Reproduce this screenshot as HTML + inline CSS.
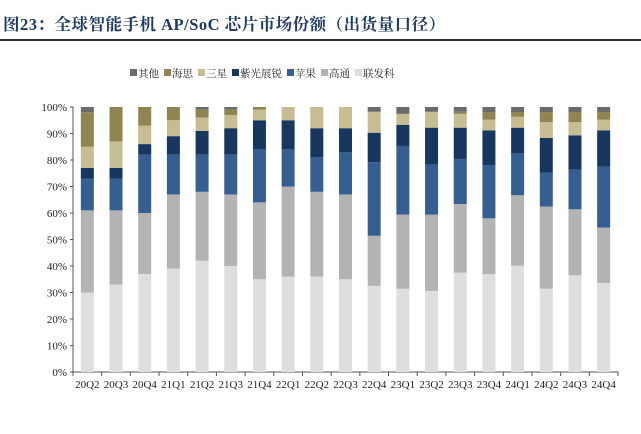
<!DOCTYPE html>
<html><head><meta charset="utf-8">
<style>
body{margin:0;background:#fff;width:641px;height:434px;overflow:hidden;font-family:"Liberation Serif","Noto Serif CJK SC",serif;}
#title{position:absolute;left:3px;top:11px;font-size:16.5px;font-weight:bold;color:#1f3a60;white-space:nowrap;letter-spacing:0.5px}
#rule{position:absolute;left:0;top:39px;width:641px;height:2px;background:#333}
svg{position:absolute;left:0;top:0}
</style></head><body>
<div id="title">图23：全球智能手机 AP/SoC 芯片市场份额（出货量口径）</div>
<div id="rule"></div>
<svg id="chart" width="641" height="434"></svg>
<script>
const categories=["20Q2","20Q3","20Q4","21Q1","21Q2","21Q3","21Q4","22Q1","22Q2","22Q3","22Q4","23Q1","23Q2","23Q3","23Q4","24Q1","24Q2","24Q3","24Q4"];
const seriesNames=["联发科","高通","苹果","紫光展锐","三星","海思","其他"];
const mediatek=[30,33,37,39,42,40,35,36,36,35,32.5,31.4,30.6,37.5,36.9,40.1,31.4,36.5,33.6];
const qualcomm=[31,28,23,28,26,27,29,34,32,32,18.9,28,28.8,25.9,21.1,26.6,31,24.9,20.9];
const apple=[12,12,22,15,14,15,20,14,13,16,27.8,25.9,18.8,17,20.1,15.8,12.9,14.9,23];
const unisoc=[4,4,4,7,9,10,11,11,11,9,11.1,8,14,11.8,13.1,9.7,13,13,13.7];
const samsung=[8,10,7,6,5,5,4,5,8,8,7.9,4.1,6,5.2,4,4.1,6,5,4];
const hisilicon=[13,13,7,5,3,2,1,0,0,0,0,0,0,0.8,2.9,1.8,3.8,3.8,2.9];
const others=[2,0,0,0,1,1,0,0,0,0,1.8,2.6,1.8,1.8,1.9,1.9,1.9,1.9,1.9];
const yTicks=[0,10,20,30,40,50,60,70,80,90,100];
const series=[mediatek,qualcomm,apple,unisoc,samsung,hisilicon,others];
const colors=["#dedede","#b3b3b3","#365f91","#17375e","#c6bd93","#8f8550","#6b6b6b"];
const legendOrder=[6,5,4,3,2,1,0];
const NS="http://www.w3.org/2000/svg";
const svg=document.getElementById('chart');
const X0=73,X1=618,Y0=372,Y100=107;
const n=categories.length;
const cw=(X1-X0)/n;
function y(v){return Y0-(Y0-Y100)*v/100;}
function xc(i){return X0+cw*(i+0.5);}
function mk(t,a){const e=document.createElementNS(NS,t);for(const k in a)e.setAttribute(k,a[k]);svg.appendChild(e);return e;}
let ax=mk('line',{x1:X0,y1:Y100,x2:X0,y2:Y0,stroke:'#555','stroke-width':1});


yTicks.forEach(t=>{
 const tk=mk('line',{x1:X0-3,x2:X0,y1:y(t),y2:y(t),stroke:'#555'});
 
 
 const tx=mk('text',{x:X0-6,y:y(t)+4,'text-anchor':'end','font-size':11,fill:'#222'});
 tx.textContent=t+'%';
 
 
});
let xa=mk('line',{x1:X0,y1:Y0,x2:X1,y2:Y0,stroke:'#555','stroke-width':1});


for(let i=0;i<=n;i++){
 const tk=mk('line',{x1:X0+cw*i,x2:X0+cw*i,y1:Y0,y2:Y0+4,stroke:'#555'});
 
 
}
const bw=13;
categories.forEach((c,i)=>{
 let acc=0;
 series.forEach((s,k)=>{
  const v=s[i];
  if(v>0){
   const r=mk('rect',{x:xc(i)-bw/2,y:y(acc+v),width:bw,height:y(acc)-y(acc+v),fill:colors[k]});
   
   
  }
  acc+=v;
 });
 const tx=mk('text',{x:xc(i),y:Y0+16,'text-anchor':'middle','font-size':11,fill:'#222'});
 tx.textContent=c;
 
 
});
let lx=130;
legendOrder.forEach(k=>{
 const r=mk('rect',{x:lx,y:69,width:7,height:7,fill:colors[k]});
 
 
 const t=mk('text',{x:lx+8,y:77,'font-size':10.5,fill:'#222'});
 t.textContent=seriesNames[k];
 
 
 lx+=8+seriesNames[k].length*10.5+5;
});
</script>
</body></html>
